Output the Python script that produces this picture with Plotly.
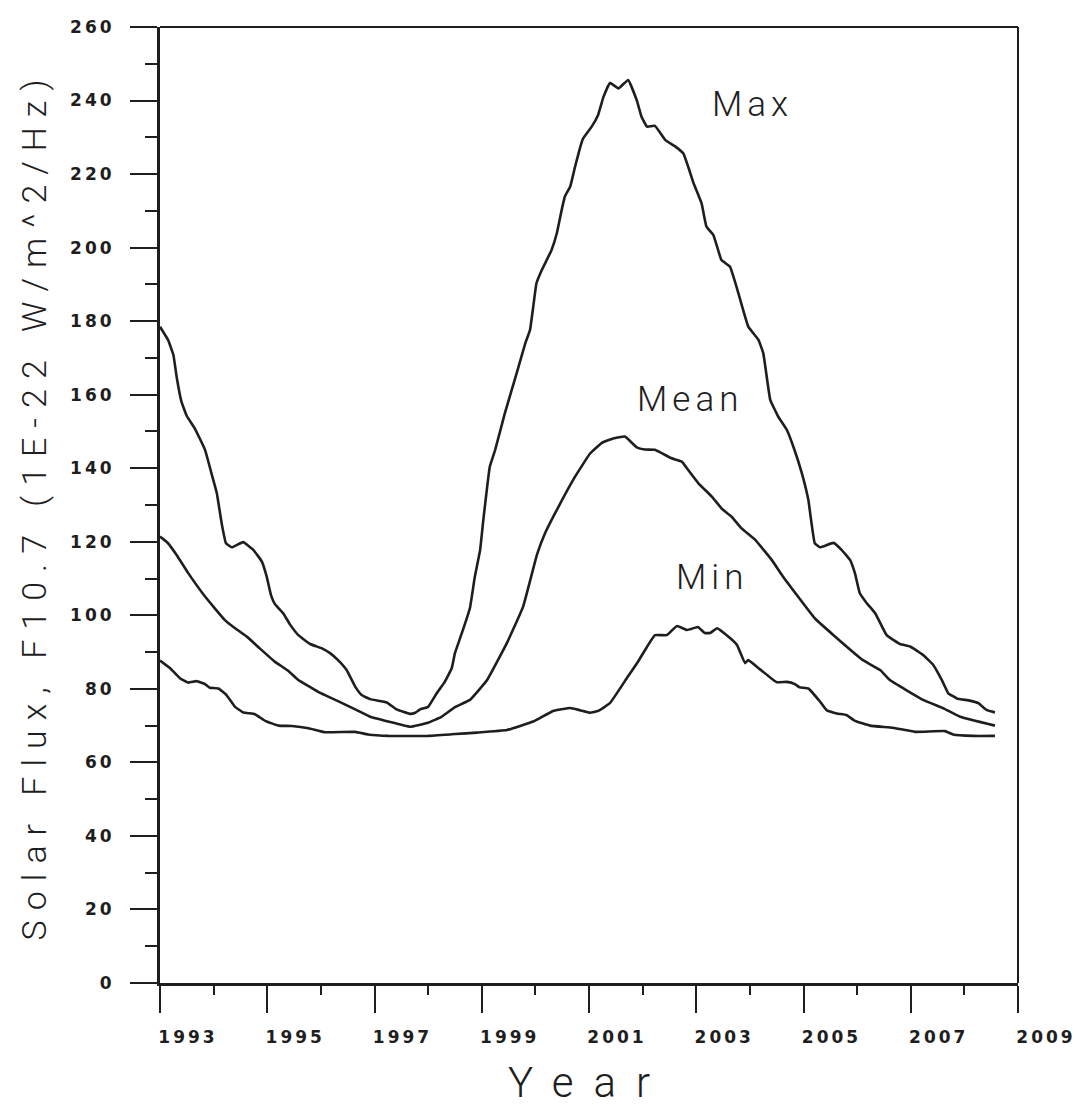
import plotly.graph_objects as go

# ---- data ----
max_year = [1993.00, 1993.15, 1993.25, 1993.31, 1993.40, 1993.50, 1993.65, 1993.84, 1993.96, 1994.06,
            1994.15, 1994.23, 1994.34, 1994.55, 1994.74, 1994.90, 1994.99, 1995.07, 1995.14, 1995.30,
            1995.42, 1995.58, 1995.80, 1996.02, 1996.17, 1996.32, 1996.48, 1996.64, 1996.76, 1996.92,
            1997.23, 1997.41, 1997.66, 1997.76, 1997.85, 1998.00, 1998.16, 1998.31, 1998.44, 1998.50,
            1998.63, 1998.78, 1998.87, 1998.97, 1999.03, 1999.15, 1999.25, 1999.43, 1999.65, 1999.81,
            1999.90, 1999.96, 2000.02, 2000.12, 2000.30, 2000.40, 2000.49, 2000.55, 2000.65, 2000.74,
            2000.83, 2000.89, 2001.05, 2001.17, 2001.27, 2001.39, 2001.55, 2001.73, 2001.89, 2001.98,
            2002.08, 2002.23, 2002.42, 2002.60, 2002.76, 2002.85, 2002.95, 2003.10, 2003.19, 2003.32,
            2003.47, 2003.63, 2003.75, 2003.97, 2004.16, 2004.25, 2004.38, 2004.53, 2004.69, 2004.81,
            2004.97, 2005.09, 2005.21, 2005.31, 2005.56, 2005.71, 2005.87, 2005.96, 2006.05, 2006.18,
            2006.34, 2006.55, 2006.80, 2006.99, 2007.23, 2007.42, 2007.58, 2007.70, 2007.86, 2008.10,
            2008.26, 2008.42, 2008.57]
max_flux = [178.5, 174.9, 170.8, 164.9, 158.1, 154.2, 150.8, 145.0, 138.6, 133.2,
            125.0, 119.6, 118.5, 119.9, 117.8, 114.6, 110.5, 105.5, 103.1, 100.5,
            97.6, 94.6, 92.2, 91.0, 89.7, 87.8, 85.1, 80.6, 78.3, 77.2,
            76.3, 74.4, 73.2, 73.5, 74.4, 75.1, 78.8, 81.9, 85.6, 89.7,
            95.2, 102.0, 110.4, 117.8, 126.0, 140.4, 145.0, 154.9, 165.8, 173.9,
            177.6, 183.9, 190.3, 193.9, 199.3, 203.9, 210.2, 213.9, 216.6, 222.0,
            227.0, 229.7, 232.9, 236.1, 241.0, 244.8, 243.3, 245.6, 240.1, 235.6,
            232.9, 233.1, 229.3, 227.6, 225.6, 222.0, 217.5, 212.0, 205.7, 203.4,
            196.6, 194.8, 189.4, 178.5, 174.9, 171.3, 158.6, 154.0, 150.4, 145.9,
            138.6, 131.4, 119.6, 118.5, 119.7, 117.8, 115.0, 111.4, 106.0, 103.3,
            100.5, 94.6, 92.2, 91.5, 89.2, 86.5, 82.4, 78.8, 77.4, 76.8,
            76.1, 74.2, 73.6]

mean_year = [1993.00, 1993.15, 1993.31, 1993.53, 1993.84, 1994.21, 1994.40, 1994.62, 1994.86, 1995.14,
             1995.39, 1995.58, 1995.95, 1996.30, 1996.67, 1996.92, 1997.26, 1997.66, 1998.00, 1998.25,
             1998.50, 1998.78, 1999.10, 1999.47, 1999.77, 2000.03, 2000.18, 2000.43, 2000.74, 2001.02,
             2001.24, 2001.45, 2001.67, 2001.89, 2002.04, 2002.23, 2002.54, 2002.73, 2002.85, 2003.04,
             2003.29, 2003.47, 2003.66, 2003.84, 2004.10, 2004.41, 2004.62, 2005.21, 2005.56, 2006.11,
             2006.43, 2006.61, 2007.23, 2007.61, 2007.92, 2008.57]
mean_flux = [121.4, 119.6, 116.4, 111.4, 105.1, 98.7, 96.5, 94.2, 91.0, 87.4,
             84.9, 82.4, 79.2, 76.8, 74.2, 72.4, 71.1, 69.7, 70.8, 72.4,
             75.0, 77.0, 82.4, 92.5, 102.3, 116.5, 122.3, 129.5, 137.7, 144.0,
             146.9, 148.1, 148.6, 145.7, 145.1, 145.0, 142.7, 141.8, 139.5, 135.9,
             132.3, 129.1, 126.8, 123.7, 120.5, 115.0, 110.5, 99.2, 94.6, 87.8,
             85.1, 82.4, 77.0, 74.7, 72.4, 70.0]

min_year = [1993.00, 1993.19, 1993.37, 1993.53, 1993.68, 1993.84, 1993.93, 1994.09, 1994.24, 1994.40,
            1994.55, 1994.77, 1994.96, 1995.21, 1995.46, 1995.77, 1996.08, 1996.64, 1996.88, 1997.26,
            1998.00, 1998.50, 1998.91, 1999.47, 1999.96, 2000.33, 2000.65, 2000.83, 2001.02, 2001.17,
            2001.39, 2001.71, 2001.91, 2002.08, 2002.23, 2002.45, 2002.64, 2002.83, 2003.03, 2003.16,
            2003.26, 2003.39, 2003.63, 2003.76, 2003.91, 2003.97, 2004.19, 2004.50, 2004.69, 2004.84,
            2004.93, 2005.09, 2005.31, 2005.43, 2005.62, 2005.80, 2005.96, 2006.24, 2006.67, 2007.08,
            2007.64, 2007.79, 2008.16, 2008.57]
min_flux = [87.7, 85.6, 82.9, 81.7, 82.1, 81.3, 80.3, 80.1, 78.3, 75.1,
            73.6, 73.1, 71.3, 70.0, 69.9, 69.3, 68.2, 68.3, 67.6, 67.2,
            67.2, 67.7, 68.1, 68.8, 71.1, 74.0, 74.8, 74.2, 73.5, 74.0,
            76.1, 83.0, 87.3, 91.4, 94.6, 94.6, 97.1, 96.0, 96.8, 95.2,
            95.2, 96.5, 93.8, 91.9, 87.0, 87.8, 85.3, 81.8, 81.9, 81.3,
            80.4, 80.1, 76.5, 74.2, 73.3, 72.9, 71.3, 70.0, 69.4, 68.3,
            68.5, 67.6, 67.2, 67.2]

x_ticks = [1993, 1995, 1997, 1999, 2001, 2003, 2005, 2007, 2009]
y_ticks = [0, 20, 40, 60, 80, 100, 120, 140, 160, 180, 200, 220, 240, 260]

labels = ["Max", "Mean", "Min"]
label_year = [2004.04, 2002.88, 2003.29]
label_flux = [238.8, 158.6, 110.4]

x_title = "Year"
y_title = "Solar Flux, F10.7 (1E-22 W/m^2/Hz)"

INK = "#1e1e1e"


def spaced(text, ls):
    return f'<span style="letter-spacing:{ls}px">{text}</span>'


fig = go.Figure()
for xs, ys, name in [(max_year, max_flux, "Max"), (mean_year, mean_flux, "Mean"), (min_year, min_flux, "Min")]:
    fig.add_trace(go.Scatter(x=xs, y=ys, mode="lines", name=name,
                             line=dict(color=INK, width=2.6, shape="spline", smoothing=0.3),
                             showlegend=False, hoverinfo="x+y"))

for t, xv, yv in zip(labels, label_year, label_flux):
    fig.add_annotation(x=xv, y=yv, text=spaced(t, 5), showarrow=False,
                       xanchor="center", yanchor="middle",
                       font=dict(family="Roboto", size=35, color=INK, weight=300))

tick_font = dict(family="DejaVu Sans", size=17, color=INK, weight="bold")

fig.update_xaxes(range=[1993, 2009], tickmode="array", tickvals=x_ticks,
                 ticktext=[spaced(str(v), 3) for v in x_ticks],
                 ticks="outside", ticklen=27, tickwidth=2, tickcolor=INK,
                 ticklabelposition="outside", ticklabelshift=28, ticklabelstandoff=10,
                 ticklabeloverflow="allow",
                 minor=dict(dtick=1, tick0=1993, ticks="outside", ticklen=9, tickwidth=2, tickcolor=INK),
                 showline=True, linewidth=3, linecolor=INK, mirror=False,
                 showgrid=False, zeroline=False, tickfont=tick_font,
                 title=dict(text=spaced(x_title, 20), standoff=22,
                            font=dict(family="Roboto", size=42, color=INK, weight=300)))

fig.update_yaxes(range=[0, 260], tickmode="array", tickvals=y_ticks,
                 ticktext=[spaced(str(v), 3) for v in y_ticks],
                 ticks="outside", ticklen=27, tickwidth=2, tickcolor=INK,
                 ticklabelstandoff=12, ticklabeloverflow="allow",
                 minor=dict(dtick=10, tick0=0, ticks="outside", ticklen=12, tickwidth=2, tickcolor=INK),
                 showline=True, linewidth=3, linecolor=INK, mirror=False,
                 showgrid=False, zeroline=False, tickfont=tick_font,
                 title=dict(text=spaced(y_title, 10), standoff=14,
                            font=dict(family="Roboto", size=34, color=INK, weight=300)))

# top and right frame lines (thinner than the axis lines)
fig.add_shape(type="line", xref="x domain", yref="y domain", x0=0, x1=1, y0=1, y1=1,
              line=dict(color=INK, width=2))
fig.add_shape(type="line", xref="x domain", yref="y domain", x0=1, x1=1, y0=0, y1=1,
              line=dict(color=INK, width=2))

fig.update_layout(width=1075, height=1109,
                  margin=dict(l=160, r=57, t=27, b=126, autoexpand=False),
                  paper_bgcolor="white", plot_bgcolor="white")

fig.write_html("out.html")
